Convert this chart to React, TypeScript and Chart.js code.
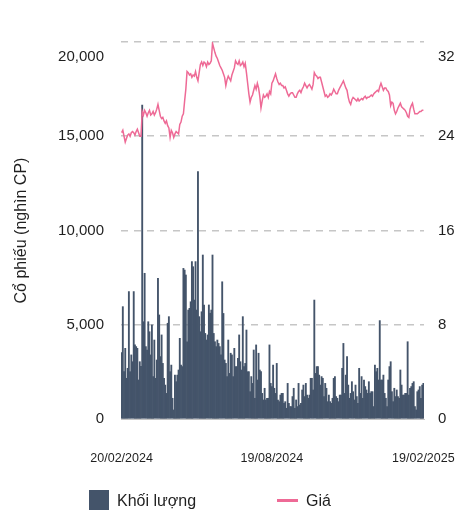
import { useEffect, useRef } from "react";
import { Chart, registerables } from "chart.js";

Chart.register(...registerables);

// Daily traded volume (thousand shares), one value per session
const volume = [
  3520, 5960, 2510, 3750, 2160, 2690, 6760, 2510, 3400, 3040,
  6760, 3930, 3840, 3750, 2070, 3040, 2800, 16660,
  5160, 7730, 3840, 3660, 5160, 4630, 3400, 4990, 2250, 4190,
  2160, 3130, 7460, 5520, 3310, 4460, 2950, 2160, 1800,
  1360, 5080, 5430, 2510, 2860, 1100, 480, 2330, 1980,
  2330, 2600, 4280, 2860, 2780, 7990, 7900, 7640, 4100,
  5780, 5870, 6220, 8350, 8080, 6310, 8350, 5780,
  13120,
  5430, 4630, 5690, 8700, 6050, 4540, 4190, 4460, 6050, 5610,
  5780, 8700, 4540, 4100, 3840, 4190, 4010, 3840, 3400, 7280,
  5600, 3130, 2950, 2250, 4190, 2420, 3490, 3400, 2250, 3750,
  2780, 2780, 3220, 4460, 3040, 2600, 5430, 2780, 2950, 4720,
  2510, 2510, 1450, 2250, 1890, 3660, 1100, 3930, 2070, 3490,
  2600, 2510, 1360, 1010, 1630, 1010, 1100, 1100, 3930, 1890,
  1720, 2860, 1630, 1360, 2950, 1010, 920, 1270, 1360, 1360,
  830, 920, 570, 1890, 830, 660, 660, 1190, 1630, 570,
  1010, 660, 1890, 740, 830, 1540, 1800, 1190, 1890, 1270,
  1100, 1270, 2160, 2160, 1540,
  6310,
  2420, 2780, 2780, 2330, 1800, 2250, 2160,
  1190, 1890, 1630, 920, 1270, 920, 830, 1100, 2160, 2250,
  1190, 1100, 920, 1270, 1270, 2690, 4010, 1360, 2330, 3310,
  1800, 1100, 1360, 1980, 1450, 1010, 1800, 1190, 830, 2690,
  1360, 2250, 1100, 2070, 1720, 1540, 1360, 1980, 1360, 1450,
  1450, 660, 2860, 2510, 2690, 2070,
  5220,
  2070, 2070, 2330, 1360, 1100, 660, 2070, 2780, 3040, 1450,
  920, 1630, 1190, 1540, 1190, 1100, 2600, 1800, 1270, 1270,
  1360, 1360, 4100, 1270, 1630, 1720, 1890, 1980, 660, 480,
  1450, 1540, 1720, 1100, 1800, 1890,
];

// Closing price (thousand VND), one value per session
const price = [
  24.3, 24.5, 24.0, 23.5, 23.8, 24.1, 24.2, 24.0, 24.3, 24.4,
  24.3, 24.1, 24.4, 24.6, 24.3, 24.0, 24.0, 26.1, 25.8, 26.2,
  26.0, 25.7, 26.0, 26.2, 25.8, 25.9, 26.1, 25.8, 26.0, 26.3,
  26.7, 26.2, 25.7, 25.5, 25.6, 25.3, 25.1, 25.3, 24.9, 24.7,
  23.9, 24.5, 24.3, 23.9, 24.2, 24.4, 24.3, 24.2, 25.0, 25.2,
  25.7, 25.9, 27.0, 28.0, 29.5, 29.4, 29.2, 29.3, 29.0, 29.2,
  29.1, 29.5, 29.0, 28.7, 29.4, 30.1, 30.3, 30.0, 30.3, 30.2,
  29.9, 30.3, 30.1, 30.2, 30.4, 31.9, 31.5, 31.1, 30.8, 30.6,
  30.3, 30.0, 29.8, 29.6, 29.3, 29.0, 28.3, 28.8, 29.1, 28.9,
  28.7, 29.2, 29.5, 29.8, 30.4, 30.2, 30.1, 30.4, 30.0, 30.1,
  30.3, 29.9, 30.2, 29.4, 28.5, 27.6, 26.9, 27.3, 27.5, 27.9,
  28.3, 28.0, 28.5, 28.1, 27.4, 26.4, 27.0, 27.5, 27.3, 27.4,
  27.6, 27.3, 27.8, 27.6, 28.5, 28.7, 29.0, 29.3, 28.9, 28.6,
  28.4, 28.5, 28.3, 28.3, 28.1, 28.2, 27.9, 27.6, 27.4, 27.6,
  27.7, 27.7, 27.5, 27.3, 27.3, 27.6, 27.8, 27.9, 27.7, 28.0,
  28.2, 28.5, 28.3, 28.1, 28.3, 28.4, 28.2, 28.0, 28.4, 29.4,
  29.2, 29.1, 28.9, 29.0, 29.0, 28.6, 28.2, 27.8, 27.4, 27.5,
  27.3, 27.4, 27.6, 27.5, 27.7, 28.0, 27.8, 27.6, 27.6, 27.9,
  28.1, 28.3, 28.5, 28.7, 28.4, 28.1, 27.9, 27.3, 26.9, 26.7,
  27.1, 27.3, 27.2, 27.1, 27.0, 27.2, 27.0, 27.1, 27.2, 27.1,
  27.3, 27.4, 27.2, 27.3, 27.3, 27.4, 27.5, 27.4, 27.6, 27.7,
  27.8, 27.9, 27.8, 28.2, 28.5, 28.2, 27.9, 28.1, 28.1, 27.9,
  27.8, 27.5, 26.6, 26.9, 26.8, 26.2, 25.9, 26.1, 26.4, 26.6,
  26.8, 26.5, 26.4, 26.3, 26.2, 26.0, 25.7, 25.6, 26.3, 26.6,
  26.8, 26.3, 25.9, 25.9, 25.9, 26.0, 26.1, 26.1, 26.2, 26.2,
];

const sessions = volume.map((_, i) => i + 1);
const dateLabels = ["20/02/2024", "19/08/2024", "19/02/2025"];
const dateLabelIndices = [0, 124, 249];
const leftTicks = [0, 5000, 10000, 15000, 20000];
const rightTicks = [0, 8, 16, 24, 32];

const FONT = "'Liberation Sans', Arial, Helvetica, sans-serif";
const TEXT = "#1f1f1f";
const BAR = "#44546A";
const LINE = "#EE6A96";

const fmt = (v: number) => v.toLocaleString("en-US");

const topLabelPlugin = {
  id: "topLabels",
  afterDraw(chart: any) {
    const { ctx } = chart;
    const y = chart.scales.y;
    const y1 = chart.scales.y1;
    const lMax = leftTicks[leftTicks.length - 1];
    const rMax = rightTicks[rightTicks.length - 1];
    ctx.save();
    ctx.font = `15px ${FONT}`;
    ctx.fillStyle = TEXT;
    ctx.textBaseline = "middle";
    ctx.textAlign = "right";
    ctx.fillText(fmt(lMax), y.right - 17, y.getPixelForValue(lMax) + 15);
    ctx.textAlign = "left";
    ctx.fillText(String(rMax), y1.left + 14, y1.getPixelForValue(rMax) + 15);
    ctx.restore();
  },
};

export default function App() {
  const ref = useRef<HTMLCanvasElement | null>(null);

  useEffect(() => {
    document.body.style.margin = "0";
    if (!ref.current) return;
    const chart = new Chart(ref.current, {
      type: "bar",
      data: {
        labels: sessions,
        datasets: [
          {
            type: "line",
            label: "Giá",
            data: price,
            yAxisID: "y1",
            borderColor: LINE,
            borderWidth: 1.5,
            pointRadius: 0,
            tension: 0,
            order: 0,
          } as any,
          {
            type: "bar",
            label: "Khối lượng",
            data: volume,
            yAxisID: "y",
            backgroundColor: BAR,
            barPercentage: 1,
            categoryPercentage: 1,
            order: 1,
          },
        ],
      },
      options: {
        responsive: false,
        animation: false,
        layout: { padding: { top: 42, left: 0, right: 0, bottom: 0 } },
        plugins: {
          legend: { display: false },
          tooltip: { enabled: false },
        },
        scales: {
          x: {
            grid: { display: false },
            border: { display: true, color: "#c4c4c4", width: 1 },
            ticks: {
              autoSkip: false,
              maxRotation: 0,
              minRotation: 0,
              padding: 24,
              color: TEXT,
              font: { size: 12.5, family: FONT },
              callback: (_v: any, idx: number) => {
                const k = dateLabelIndices.indexOf(idx);
                return k >= 0 ? dateLabels[k] : "";
              },
            },
            afterFit: (s: any) => {
              s.height = 92;
              s.paddingLeft = 0;
              s.paddingRight = 0;
            },
          },
          y: {
            position: "left",
            min: leftTicks[0],
            max: leftTicks[leftTicks.length - 1],
            afterBuildTicks: (s: any) => {
              s.ticks = leftTicks.map((v) => ({ value: v }));
            },
            ticks: {
              padding: 17,
              color: TEXT,
              font: { size: 15, family: FONT },
              callback: (v: any) =>
                v === leftTicks[leftTicks.length - 1] ? "" : fmt(Number(v)),
            },
            grid: { color: "#c6c6c6", lineWidth: 1.6, drawTicks: false },
            border: { display: false, dash: [7, 6] },
            title: {
              display: true,
              text: "Cổ phiếu (nghìn CP)",
              color: TEXT,
              font: { size: 16, family: FONT },
              padding: { top: 12, bottom: 0 },
            },
            afterFit: (s: any) => {
              s.width = 121;
              s.paddingTop = 0;
              s.paddingBottom = 0;
            },
          },
          y1: {
            position: "right",
            min: rightTicks[0],
            max: rightTicks[rightTicks.length - 1],
            afterBuildTicks: (s: any) => {
              s.ticks = rightTicks.map((v) => ({ value: v }));
            },
            ticks: {
              padding: 14,
              color: TEXT,
              font: { size: 15, family: FONT },
              callback: (v: any) =>
                v === rightTicks[rightTicks.length - 1] ? "" : String(v),
            },
            grid: { display: false, drawTicks: false },
            border: { display: false },
            afterFit: (s: any) => {
              s.width = 31;
              s.paddingTop = 0;
              s.paddingBottom = 0;
            },
          },
        },
      },
      plugins: [topLabelPlugin],
    });
    return () => chart.destroy();
  }, []);

  return (
    <div style={{ position: "relative", width: 455, height: 511, fontFamily: FONT, overflow: "hidden" }}>
      <canvas ref={ref} width={455} height={511} style={{ display: "block" }} />
      <div style={{ position: "absolute", left: 89, top: 490, width: 20, height: 20, background: BAR }} />
      <div style={{ position: "absolute", left: 117, top: 490, fontSize: 16, lineHeight: "22px", color: TEXT, whiteSpace: "nowrap" }}>
        Khối lượng
      </div>
      <div style={{ position: "absolute", left: 277, top: 499, width: 21, height: 3, background: LINE }} />
      <div style={{ position: "absolute", left: 306, top: 490, fontSize: 16, lineHeight: "22px", color: TEXT, whiteSpace: "nowrap" }}>
        Giá
      </div>
    </div>
  );
}
